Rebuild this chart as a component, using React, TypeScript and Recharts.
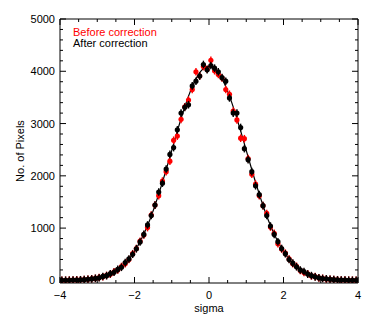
import {
  ComposedChart,
  Legend,
  Line,
  Scatter,
  XAxis,
  YAxis,
} from "recharts";

const sigma = [
  -3.95, -3.85, -3.75, -3.65, -3.55, -3.45, -3.35, -3.25, -3.15, -3.05,
  -2.95, -2.85, -2.75, -2.65, -2.55, -2.45, -2.35, -2.25, -2.15, -2.05,
  -1.95, -1.85, -1.75, -1.65, -1.55, -1.45, -1.35, -1.25, -1.15, -1.05,
  -0.95, -0.85, -0.75, -0.65, -0.55, -0.45, -0.35, -0.25, -0.15, -0.05,
  0.05, 0.15, 0.25, 0.35, 0.45, 0.55, 0.65, 0.75, 0.85, 0.95,
  1.05, 1.15, 1.25, 1.35, 1.45, 1.55, 1.65, 1.75, 1.85, 1.95,
  2.05, 2.15, 2.25, 2.35, 2.45, 2.55, 2.65, 2.75, 2.85, 2.95,
  3.05, 3.15, 3.25, 3.35, 3.45, 3.55, 3.65, 3.75, 3.85, 3.95,
];

const beforeCorrection = [
  2, 2, 5, 5, 9, 10, 16, 20, 30, 38,
  55, 70, 95, 118, 165, 200, 265, 320, 400, 510,
  610, 750, 870, 1010, 1250, 1440, 1620, 1900, 2080, 2280,
  2680, 2760, 3080, 3320, 3450, 3650, 3990, 3910, 4090, 4040,
  4210, 4010, 3940, 3870, 3650, 3560, 3240, 3070, 2720, 2710,
  2330, 2030, 1840, 1620, 1430, 1280, 1020, 900, 700, 600,
  520, 410, 320, 270, 190, 150, 125, 85, 72, 48,
  40, 26, 22, 14, 12, 6, 6, 3, 3, 1,
];

const afterCorrection = [
  1, 3, 3, 6, 7, 12, 14, 22, 27, 40,
  50, 75, 90, 128, 155, 210, 250, 340, 410, 500,
  605, 735, 880, 1060, 1240, 1440, 1690, 1860, 2130, 2410,
  2540, 2880, 3200, 3310, 3360, 3720, 3810, 3910, 4130, 4030,
  4110, 4060, 3990, 3880, 3810, 3490, 3200, 3200, 2925, 2520,
  2310, 2080, 1810, 1640, 1430, 1240, 1040, 880, 740, 610,
  510, 400, 330, 260, 200, 170, 120, 92, 68, 50,
  36, 30, 20, 14, 10, 7, 5, 3, 2, 1,
];

const gaussFit = [
  2, 2, 4, 5, 8, 11, 15, 21, 29, 39,
  53, 71, 93, 122, 159, 204, 259, 326, 406, 501,
  612, 741, 887, 1050, 1233, 1433, 1649, 1877, 2117, 2362,
  2611, 2857, 3095, 3319, 3524, 3705, 3856, 3974, 4054, 4095,
  4095, 4054, 3974, 3856, 3705, 3524, 3319, 3095, 2857, 2611,
  2362, 2117, 1877, 1649, 1433, 1233, 1050, 887, 741, 612,
  501, 406, 326, 259, 204, 159, 122, 93, 71, 53,
  39, 29, 21, 15, 11, 8, 5, 4, 2, 2,
];

const xTicks = [-4, -3.5, -3, -2.5, -2, -1.5, -1, -0.5, 0, 0.5, 1, 1.5, 2, 2.5, 3, 3.5, 4];
const xLabels = [-4, -2, 0, 2, 4];
const yTicks = [
  0, 200, 400, 600, 800, 1000, 1200, 1400, 1600, 1800, 2000, 2200, 2400, 2600,
  2800, 3000, 3200, 3400, 3600, 3800, 4000, 4200, 4400, 4600, 4800, 5000,
];
const yLabels = [0, 1000, 2000, 3000, 4000, 5000];

const rows = sigma.map((x, i) => ({
  x,
  before: beforeCorrection[i],
  after: afterCorrection[i],
  fit: gaussFit[i],
}));

const FONT = "'Liberation Sans', Arial, sans-serif";

const fmt = (v: number) => (v < 0 ? "\u2212" + Math.abs(v) : String(v));

// inward ticks, IDL style; labels only on the majors
const bottomTick = (p: any) => {
  const v = p.payload.value;
  const major = xLabels.includes(v);
  return (
    <g>
      <line x1={p.x} y1={p.y} x2={p.x} y2={p.y - (major ? 6 : 3)} stroke="#000" />
      {major && (
        <text x={p.x} y={p.y + 12} textAnchor="middle" dominantBaseline="central" fontSize={11} fontFamily={FONT} fill="#000">
          {fmt(v)}
        </text>
      )}
    </g>
  );
};

const topTick = (p: any) => {
  const major = xLabels.includes(p.payload.value);
  return <line x1={p.x} y1={p.y} x2={p.x} y2={p.y + (major ? 6 : 3)} stroke="#000" />;
};

const leftTick = (p: any) => {
  const v = p.payload.value;
  const major = yLabels.includes(v);
  return (
    <g>
      <line x1={p.x} y1={p.y} x2={p.x + (major ? 6 : 3)} y2={p.y} stroke="#000" />
      {major && (
        <text x={p.x - 5} y={p.y} textAnchor="end" dominantBaseline="central" fontSize={11} fontFamily={FONT} fill="#000">
          {v}
        </text>
      )}
    </g>
  );
};

const rightTick = (p: any) => {
  const major = yLabels.includes(p.payload.value);
  return <line x1={p.x} y1={p.y} x2={p.x - (major ? 6 : 3)} y2={p.y} stroke="#000" />;
};

const marker = (color: string) => (p: any) => (
  <g>
    <line x1={p.cx} y1={p.cy - 3.8} x2={p.cx} y2={p.cy + 3.8} stroke={color} strokeWidth={1.4} />
    <circle cx={p.cx} cy={p.cy} r={2.6} fill={color} />
  </g>
);

const LegendBox = () => (
  <div style={{ fontFamily: FONT, fontSize: 11, lineHeight: "11px" }}>
    <div style={{ color: "#ff0000" }}>Before correction</div>
    <div style={{ color: "#000" }}>After correction</div>
  </div>
);

export default function App() {
  return (
    <div style={{ position: "absolute", left: 0, top: 0, background: "#fff" }}>
      <ComposedChart width={374} height={321} data={rows} margin={{ top: 18, right: 15, bottom: 8, left: 0 }}>
        <XAxis
          xAxisId="b"
          type="number"
          dataKey="x"
          domain={[-4, 4]}
          allowDataOverflow
          ticks={xTicks}
          interval={0}
          height={30}
          tickSize={0}
          tickMargin={0}
          tickLine={false}
          tick={bottomTick}
          axisLine={{ stroke: "#000" }}
          label={{ value: "sigma", position: "insideBottom", offset: 1, fontSize: 11, fontFamily: FONT, fill: "#000" }}
        />
        <XAxis
          xAxisId="t"
          orientation="top"
          type="number"
          dataKey="x"
          domain={[-4, 4]}
          allowDataOverflow
          ticks={xTicks}
          interval={0}
          height={1}
          tickSize={0}
          tickMargin={0}
          tickLine={false}
          tick={topTick}
          axisLine={{ stroke: "#000" }}
        />
        <YAxis
          yAxisId="l"
          type="number"
          domain={[-50, 5000]}
          allowDataOverflow
          ticks={yTicks}
          interval={0}
          width={60}
          tickSize={0}
          tickMargin={0}
          tickLine={false}
          tick={leftTick}
          axisLine={{ stroke: "#000" }}
          label={{
            value: "No. of Pixels",
            angle: -90,
            position: "insideLeft",
            offset: 20,
            fontSize: 11,
            fontFamily: FONT,
            fill: "#000",
            style: { textAnchor: "middle" },
          }}
        />
        <YAxis
          yAxisId="r"
          orientation="right"
          type="number"
          domain={[-50, 5000]}
          allowDataOverflow
          ticks={yTicks}
          interval={0}
          width={1}
          tickSize={0}
          tickMargin={0}
          tickLine={false}
          tick={rightTick}
          axisLine={{ stroke: "#000" }}
        />
        <Legend
          layout="vertical"
          align="center"
          verticalAlign="middle"
          content={LegendBox}
          wrapperStyle={{ top: 27, left: 73, width: "auto" }}
        />
        {/* invisible copy so the top/right frame axes get a domain */}
        <Line
          xAxisId="t"
          yAxisId="r"
          type="monotone"
          dataKey="fit"
          stroke="none"
          dot={false}
          activeDot={false}
          isAnimationActive={false}
        />
        <Scatter
          xAxisId="b"
          yAxisId="l"
          data={rows}
          dataKey="before"
          fill="#ff0000"
          shape={marker("#ff0000")}
          isAnimationActive={false}
        />
        <Scatter
          xAxisId="b"
          yAxisId="l"
          data={rows}
          dataKey="after"
          fill="#000"
          shape={marker("#000")}
          isAnimationActive={false}
        />
        <Line
          xAxisId="b"
          yAxisId="l"
          type="monotone"
          dataKey="fit"
          stroke="#000"
          strokeWidth={1.2}
          dot={false}
          activeDot={false}
          isAnimationActive={false}
        />
      </ComposedChart>
    </div>
  );
}
